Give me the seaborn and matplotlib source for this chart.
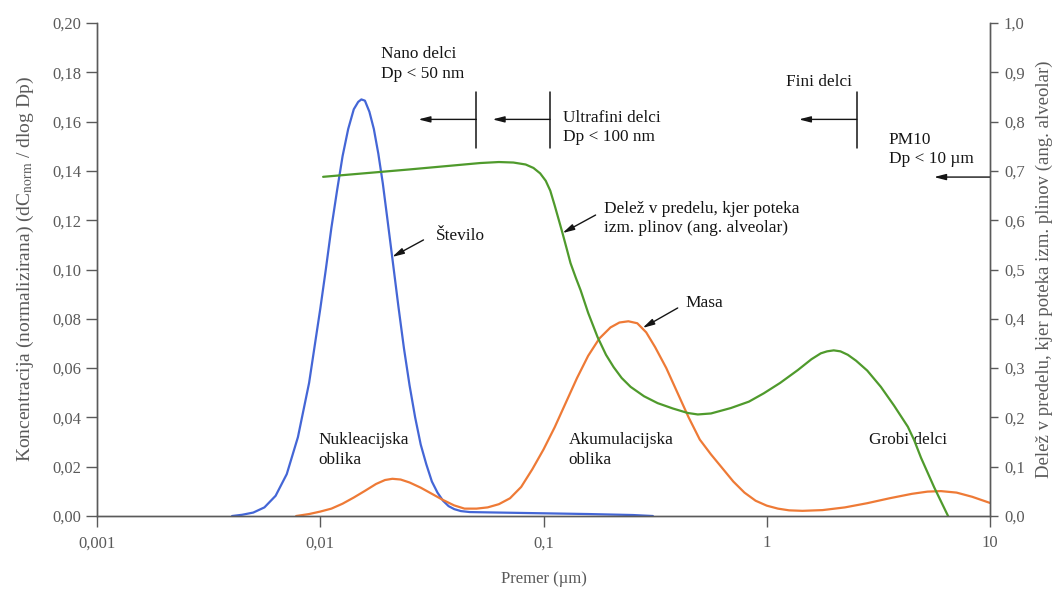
import matplotlib
matplotlib.use("Agg")
import matplotlib.pyplot as plt
from matplotlib.ticker import FixedLocator, NullLocator
import pandas as pd
import seaborn as sns

# ---- particle size distributions (diameter in µm) ----
# number distribution (left axis)
number_dp = [0.004027, 0.004467, 0.005012, 0.005623, 0.006310, 0.007079, 0.007943,
             0.008913, 0.01000, 0.01059, 0.01122, 0.01189, 0.01259, 0.01334,
             0.01413, 0.01479, 0.01528, 0.01585, 0.01660, 0.01738, 0.01820,
             0.01906, 0.01995, 0.02114, 0.02239, 0.02371, 0.02512, 0.02661,
             0.02818, 0.02985, 0.03162, 0.03350, 0.03548, 0.03758, 0.03981,
             0.04266, 0.04677, 0.06310, 0.1000, 0.1585, 0.2512, 0.3090]
number_c = [0.0, 0.0005, 0.0014, 0.0035, 0.0082, 0.017, 0.032,
            0.054, 0.084, 0.100, 0.117, 0.132, 0.146, 0.157,
            0.165, 0.168, 0.169, 0.1685, 0.164, 0.157, 0.147,
            0.135, 0.121, 0.103, 0.085, 0.068, 0.053, 0.040,
            0.029, 0.021, 0.014, 0.0095, 0.0062, 0.0040, 0.0028,
            0.0020, 0.0016, 0.0014, 0.0011, 0.0008, 0.0004, 0.0]

# mass distribution (left axis)
mass_dp = [0.007798, 0.008913, 0.01000, 0.01122, 0.01259, 0.01413, 0.01585,
           0.01778, 0.01950, 0.02104, 0.02291, 0.02512, 0.02818, 0.03162,
           0.03548, 0.03981, 0.04426, 0.05012, 0.05623, 0.06310, 0.07079,
           0.07943, 0.08913, 0.1000, 0.1122, 0.1259, 0.1413, 0.1585, 0.1778,
           0.1995, 0.2188, 0.2399, 0.2630, 0.2884, 0.3162, 0.3548, 0.3981,
           0.4467, 0.5012, 0.5623, 0.6310, 0.7079, 0.7943, 0.8913, 1.000,
           1.122, 1.259, 1.445, 1.778, 2.239, 2.818, 3.548, 4.467, 5.248,
           6.026, 7.079, 8.318, 10.00]
mass_c = [0.0, 0.0008, 0.0018, 0.0030, 0.0050, 0.0075, 0.0102,
          0.0130, 0.0146, 0.0151, 0.0148, 0.0136, 0.0115, 0.0090,
          0.0065, 0.0043, 0.0030, 0.0030, 0.0035, 0.0048, 0.0072,
          0.0118, 0.0190, 0.0270, 0.0360, 0.0460, 0.0560, 0.0650, 0.0720,
          0.0765, 0.0785, 0.0790, 0.0782, 0.0745, 0.0685, 0.0600, 0.0500,
          0.0400, 0.0310, 0.0250, 0.0195, 0.0140, 0.0095, 0.0062, 0.0042,
          0.0030, 0.0023, 0.0021, 0.0024, 0.0035, 0.0052, 0.0072, 0.0090,
          0.0099, 0.0101, 0.0095, 0.0078, 0.0053]

# alveolar deposition fraction (right axis)
alveolar_dp = [0.01030, 0.02512, 0.05212, 0.06310, 0.07328, 0.08318, 0.09016,
               0.09661, 0.1023, 0.1072, 0.1122, 0.1175, 0.1216, 0.1274, 0.1321,
               0.1396, 0.1466, 0.1585, 0.1746, 0.1905, 0.2061, 0.2239, 0.2455,
               0.2818, 0.3243, 0.3802, 0.4426, 0.4909, 0.5623, 0.6902, 0.8318,
               0.9705, 1.148, 1.377, 1.585, 1.746, 1.862, 1.995, 2.138, 2.307,
               2.512, 2.818, 3.243, 3.715, 4.285, 4.571, 4.909, 5.623, 6.486]
alveolar_f = [0.688, 0.703, 0.716, 0.718, 0.717, 0.713, 0.706,
              0.695, 0.680, 0.660, 0.630, 0.598, 0.574, 0.540, 0.513,
              0.483, 0.458, 0.412, 0.363, 0.327, 0.302, 0.280, 0.262,
              0.243, 0.229, 0.218, 0.209, 0.206, 0.208, 0.219, 0.232,
              0.249, 0.270, 0.296, 0.318, 0.330, 0.334, 0.336, 0.334, 0.327,
              0.315, 0.295, 0.262, 0.224, 0.181, 0.154, 0.118, 0.058, 0.0]

x_ticks = [0.001, 0.01, 0.1, 1, 10]
x_ticklabels = ["0,001", "0,01", "0,1", "1", "10"]
left_ticks = [0.00, 0.02, 0.04, 0.06, 0.08, 0.10, 0.12, 0.14, 0.16, 0.18, 0.20]
left_ticklabels = ["0,00", "0,02", "0,04", "0,06", "0,08", "0,10",
                   "0,12", "0,14", "0,16", "0,18", "0,20"]
right_ticks = [0.0, 0.1, 0.2, 0.3, 0.4, 0.5, 0.6, 0.7, 0.8, 0.9, 1.0]
right_ticklabels = ["0,0", "0,1", "0,2", "0,3", "0,4", "0,5",
                    "0,6", "0,7", "0,8", "0,9", "1,0"]

# size-class boundaries (µm)
nano_cut = 0.05
ultrafine_cut = 0.107
fine_cut = 2.53

sns.set_style("white")
plt.rcParams["font.family"] = ["Liberation Serif", "DejaVu Serif"]
plt.rcParams["mathtext.fontset"] = "stix"

BLUE = "#4466d6"
ORANGE = "#ee7a36"
GREEN = "#4f9a2c"
GREY = "#5a5a5a"
INK = "#151515"

fig = plt.figure(figsize=(10.6, 5.9), dpi=100)
ax = fig.add_axes([0.0915, 0.1254, 0.8425, 0.8356])
ax2 = ax.twinx()

num_df = pd.DataFrame({"dp": number_dp, "c": number_c})
mass_df = pd.DataFrame({"dp": mass_dp, "c": mass_c})
alv_df = pd.DataFrame({"dp": alveolar_dp, "f": alveolar_f})

sns.lineplot(data=num_df, x="dp", y="c", ax=ax, color=BLUE, lw=1.6,
             estimator=None, sort=False)
sns.lineplot(data=mass_df, x="dp", y="c", ax=ax, color=ORANGE, lw=1.6,
             estimator=None, sort=False)
sns.lineplot(data=alv_df, x="dp", y="f", ax=ax2, color=GREEN, lw=1.6,
             estimator=None, sort=False)

for a in (ax, ax2):
    a.set_xscale("log")
    a.set_xlim(0.001, 10)
    a.xaxis.set_minor_locator(NullLocator())
    a.spines["top"].set_visible(False)
    for s in ("left", "right", "bottom"):
        a.spines[s].set_color(GREY)
        a.spines[s].set_linewidth(1.0)

ax.set_ylim(0, 0.20)
ax2.set_ylim(0, 1.0)
ax.xaxis.set_major_locator(FixedLocator(x_ticks))
ax.set_xticklabels(x_ticklabels)
ax.yaxis.set_major_locator(FixedLocator(left_ticks))
ax.set_yticklabels(left_ticklabels)
ax2.yaxis.set_major_locator(FixedLocator(right_ticks))
ax2.set_yticklabels(right_ticklabels)

ax.tick_params(axis="both", direction="out", length=8, width=1.0, color=GREY,
               labelsize=12, labelcolor=GREY, pad=3, left=True, bottom=True)
ax.tick_params(axis="x", pad=6)
ax2.tick_params(axis="y", direction="out", length=6, width=1.0, color=GREY,
                labelsize=12, labelcolor=GREY, pad=4, right=True)

ax.set_xlabel("Premer (µm)", fontsize=12, color=GREY, labelpad=14)
ax.set_ylabel(r"Koncentracija (normalizirana) (dC$_{\mathrm{norm}}$ / dlog Dp)",
              fontsize=14, color=GREY, labelpad=12)
ax2.set_ylabel("Delež v predelu, kjer poteka izm. plinov (ang. alveolar)",
               fontsize=13.5, color=GREY)
ax2.yaxis.set_label_coords(1.051, 0.5)

txt = dict(fontsize=12.4, color=INK, linespacing=1.3, va="center", ha="left")
arrow = dict(arrowstyle="-|>,head_width=0.18,head_length=0.7", color=INK,
             lw=1.0, shrinkA=0, shrinkB=0)

# size-class markers
ax.text(0.0188, 0.1834, "Nano delci\nDp < 50 nm", **txt)
ax.text(0.1217, 0.1576, "Ultrafini delci\nDp < 100 nm", **txt)
ax.text(1.217, 0.1761, "Fini delci", **txt)
ax.text(3.525, 0.1487, "PM10\nDp < 10 µm", **txt)
for cut, head in ((nano_cut, 0.0275), (ultrafine_cut, 0.0591), (fine_cut, 1.392)):
    ax.plot([cut, cut], [0.1493, 0.1720], color=INK, lw=1.1)
    ax.annotate("", xy=(head, 0.1609), xytext=(cut, 0.1609), arrowprops=arrow)
ax.annotate("", xy=(5.61, 0.1375), xytext=(10, 0.1375), arrowprops=arrow,
            annotation_clip=False)

# curve labels
ax.text(0.0328, 0.1136, "Število", **txt)
ax.annotate("", xy=(0.0210, 0.1051), xytext=(0.0290, 0.1120), arrowprops=arrow)
ax.text(0.1858, 0.1207, "Delež v predelu, kjer poteka\nizm. plinov (ang. alveolar)", **txt)
ax.annotate("", xy=(0.1217, 0.1148), xytext=(0.1711, 0.1221), arrowprops=arrow)
ax.text(0.4333, 0.0864, "Masa", **txt)
ax.annotate("", xy=(0.278, 0.0763), xytext=(0.399, 0.0844), arrowprops=arrow)

# mode labels
ax.text(0.0098, 0.0268, "Nukleacijska\noblika", **txt)
ax.text(0.1295, 0.0268, "Akumulacijska\noblika", **txt)
ax.text(2.867, 0.0308, "Grobi delci", **txt)

fig.savefig("out.png", dpi=100, facecolor="white")
